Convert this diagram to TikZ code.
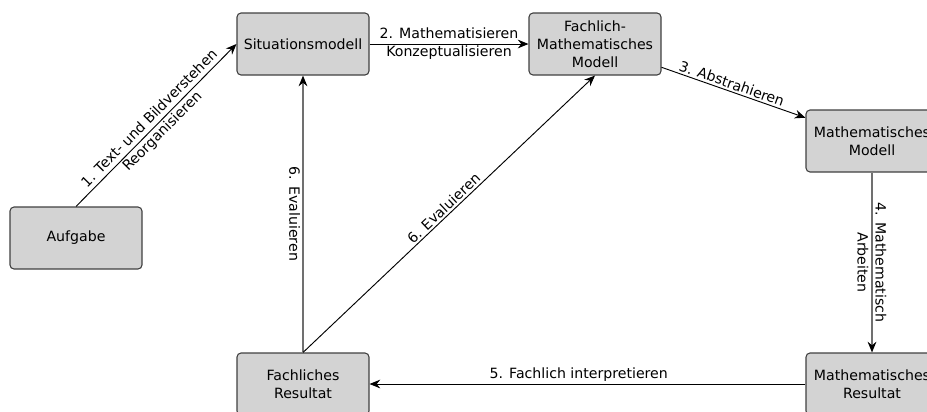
\documentclass[tikz,border=0pt]{standalone}
\usepackage{fontspec}
\setmainfont{DejaVu Sans}
\usetikzlibrary{arrows.meta}
\definecolor{boxfill}{HTML}{D3D3D3}
\definecolor{boxline}{HTML}{404040}
\definecolor{flowgray}{HTML}{707070}
\begin{document}
\begin{tikzpicture}[x=0.75pt,y=-0.75pt,
  every node/.style={font=\fontsize{10.6}{13.5}\selectfont},
  stage/.style={draw=boxline, fill=boxfill, line width=0.8pt, rounded corners=3pt,
    minimum width=99pt, minimum height=46.5pt, align=center, inner sep=2pt},
  flow/.style={-{Stealth[length=8pt,width=6.5pt,color=black]}, line width=0.7pt},
  grayflow/.style={flow, draw=flowgray, line width=1.3pt},
  lbl/.style={inner sep=1.5pt}]
\useasboundingbox (0,0) rectangle (927,411);
\clip (0,0) rectangle (927,411);

% stages of the modelling cycle
\node[stage] (auf)  at (76,238)  {Aufgabe};
\node[stage] (sit)  at (303,44)  {Situationsmodell};
\node[stage] (fmm)  at (595,44)  {Fachlich-\\Mathematisches\\Modell};
\node[stage] (mmod) at (872,141) {Mathematisches\\Modell};
\node[stage] (mres) at (872,384) {Mathematisches\\Resultat};
\node[stage] (fres) at (303,384) {Fachliches\\Resultat};

% transitions
\draw[flow] (auf.north) -- node[sloped, lbl, align=center]
  {1. Text- und Bildverstehen\\Reorganisieren} (sit.west);
\draw[flow] (sit) -- node[lbl, align=center]
  {2. Mathematisieren\\Konzeptualisieren} (fmm);
\draw[flow] (fmm) -- node[sloped, above, lbl, pos=0.47] {3. Abstrahieren} (mmod);
\draw[grayflow] (mmod) -- node[rotate=-90, lbl, align=center]
  {4. Mathematisch\\Arbeiten} (mres);
\draw[flow] (mres.west) -- node[above, lbl, pos=0.52] {5. Fachlich interpretieren} (fres.east);
\draw[grayflow] (fres.north) -- node[rotate=-90, anchor=north, lbl] {6. Evaluieren} (sit.south);
\draw[flow] (fres.north) -- node[sloped, above, lbl] {6. Evaluieren} (fmm.south);
\end{tikzpicture}
\end{document}
